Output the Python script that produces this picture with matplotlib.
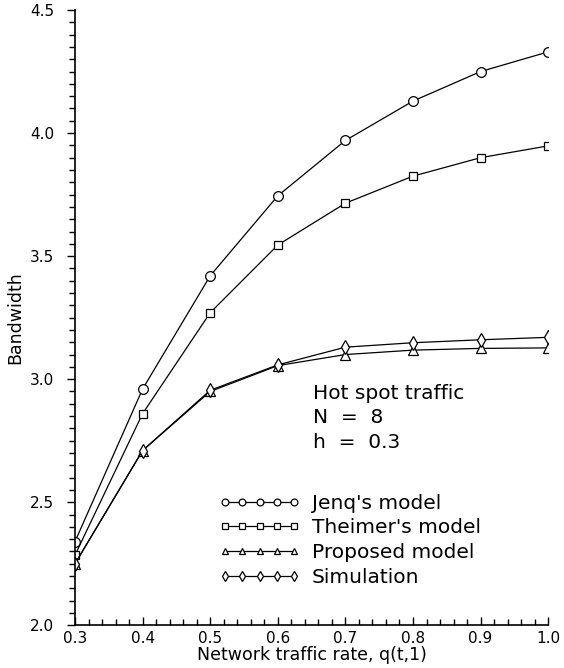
import numpy as np
import matplotlib
matplotlib.use("Agg")
import matplotlib.pyplot as plt
from matplotlib.ticker import MultipleLocator

# traffic rate q(t,1)
rate = [0.3, 0.4, 0.5, 0.6, 0.7, 0.8, 0.9, 1.0]

# bandwidth for each model
jenq = [2.34, 2.96, 3.42, 3.745, 3.97, 4.13, 4.25, 4.33]
theimer = [2.285, 2.86, 3.27, 3.545, 3.715, 3.825, 3.90, 3.948]
proposed = [2.25, 2.71, 2.95, 3.055, 3.10, 3.118, 3.125, 3.127]
simulation = [2.25, 2.71, 2.955, 3.058, 3.13, 3.148, 3.16, 3.17]

labels = ["Jenq's model", "Theimer's model", "Proposed model", "Simulation"]
info_text = "Hot spot traffic\nN  =  8\nh  =  0.3"

plt.rcParams['font.family'] = ['DejaVu Sans']

fig = plt.figure(figsize=(5.64, 6.68), dpi=100)
ax = fig.add_axes([0.133, 0.064, 0.839, 0.921])

style = dict(color='black', lw=0.9, mfc='white', mec='black', mew=0.9)
ax.plot(rate, jenq, marker='o', ms=7, label=labels[0], **style)
ax.plot(rate, theimer, marker='s', ms=6, label=labels[1], **style)
ax.plot(rate, proposed, marker='^', ms=6.5, label=labels[2], **style)
ax.plot(rate, simulation, marker='d', ms=7.5, label=labels[3], **style)

ax.set_xlim(0.3, 1.0)
ax.set_ylim(2.0, 4.5)
ax.xaxis.set_major_locator(MultipleLocator(0.1))
ax.xaxis.set_minor_locator(MultipleLocator(0.02))
ax.yaxis.set_major_locator(MultipleLocator(0.5))
ax.yaxis.set_minor_locator(MultipleLocator(0.05))
ax.xaxis.set_major_formatter(plt.FormatStrFormatter('%.1f'))
ax.yaxis.set_major_formatter(plt.FormatStrFormatter('%.1f'))

ax.spines['top'].set_visible(False)
ax.spines['right'].set_visible(False)
ax.spines['left'].set_linewidth(1.2)
ax.spines['bottom'].set_linewidth(1.2)
ax.tick_params(axis='x', which='major', direction='in', length=6, width=1, labelsize=11, pad=4)
ax.tick_params(axis='x', which='minor', direction='in', length=4, width=1)
ax.tick_params(axis='y', which='major', direction='out', length=6, width=1, labelsize=11, pad=9)
ax.tick_params(axis='y', which='minor', direction='out', length=4, width=1)

ax.set_xlabel("Network traffic rate, q(t,1)", fontsize=12.5, labelpad=0)
ax.set_ylabel("Bandwidth", fontsize=12.5, labelpad=4)

ax.text(0.503, 0.392, info_text, transform=ax.transAxes, fontsize=14.5,
        va='top', ha='left', linespacing=1.36)

ax.legend(loc='upper left', bbox_to_anchor=(0.305, 0.214), frameon=False,
          numpoints=5, markerscale=0.7, handlelength=4.0, handletextpad=0.6,
          borderpad=0, borderaxespad=0, labelspacing=0.29, fontsize=14.5)

fig.savefig("out.png", dpi=100)
